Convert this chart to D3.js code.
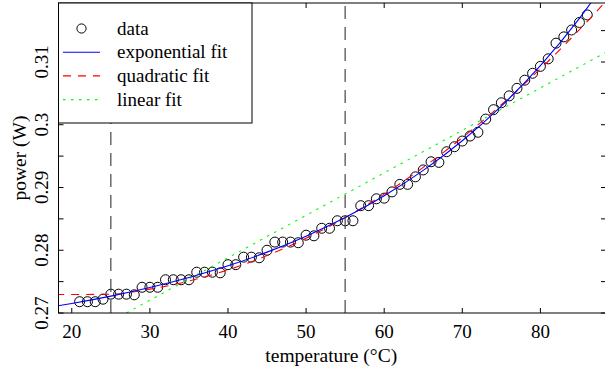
<!DOCTYPE html>
<html>
<head>
<meta charset="utf-8">
<script src="https://cdn.jsdelivr.net/npm/d3@7"></script>
<style>
  html, body { margin: 0; padding: 0; background: #fff; }
  svg text { font-family: "Liberation Serif", "Times New Roman", serif; fill: #000; }
</style>
</head>
<body>
<div id="chart"></div>
<script>
// measured data
const temperature = [21, 22, 23, 24, 25, 26, 27, 28, 29, 30, 31, 32, 33, 34, 35, 36, 37, 38, 39, 40,
                     41, 42, 43, 44, 45, 46, 47, 48, 49, 50, 51, 52, 53, 54, 55, 56, 57, 58, 59, 60,
                     61, 62, 63, 64, 65, 66, 67, 68, 69, 70, 71, 72, 73, 74, 75, 76, 77, 78, 79, 80,
                     81, 82, 83, 84, 85, 86];
const power = [0.2718, 0.2718, 0.2718, 0.2722, 0.2730, 0.2730, 0.2730, 0.2729, 0.2741, 0.2741,
               0.2741, 0.2753, 0.2753, 0.2753, 0.2753, 0.2765, 0.2765, 0.2765, 0.2764, 0.2777,
               0.2777, 0.2789, 0.2789, 0.2788, 0.2800, 0.2813, 0.2813, 0.2813, 0.2812, 0.2824,
               0.2823, 0.2835, 0.2835, 0.2847, 0.2847, 0.2847, 0.2871, 0.2871, 0.2882, 0.2883,
               0.2893, 0.2905, 0.2905, 0.2917, 0.2928, 0.2941, 0.2940, 0.2957, 0.2965, 0.2974,
               0.2982, 0.2988, 0.3009, 0.3024, 0.3035, 0.3046, 0.3058, 0.3071, 0.3082, 0.3093,
               0.3105, 0.3130, 0.3140, 0.3151, 0.3163, 0.3175];

// fitted curves
const fitTemperature = [18, 20, 25, 30, 35, 40, 45, 50, 55, 60, 65, 70, 75, 80, 85, 90];
const expFit  = [0.27110, 0.27152, 0.27269, 0.27406, 0.27566, 0.27752, 0.27970, 0.28224,
                 0.28521, 0.28867, 0.29272, 0.29745, 0.30297, 0.30942, 0.31695, 0.32575];
const quadFit = [0.27295, 0.27295, 0.27300, 0.27380, 0.27509, 0.27687, 0.27915, 0.28192,
                 0.28518, 0.28894, 0.29320, 0.29794, 0.30319, 0.30892, 0.31515, 0.32187];
const linTemperature = [18, 90];
const linFit = [0.26392, 0.31263];

const markerTemps = [25, 55];
const xTicks = [20, 30, 40, 50, 60, 70, 80];
const yTicks = [0.27, 0.275, 0.28, 0.285, 0.29, 0.295, 0.3, 0.305, 0.31, 0.315];
const yLabels = ["0.27", "0.28", "0.29", "0.3", "0.31"];
const legendNames = ["data", "exponential fit", "quadratic fit", "linear fit"];

const WIDTH = 605, HEIGHT = 376,
      LEFT = 58.5, RIGHT = 606, TOP = 3, BOTTOM = 313,
      TICK = 5;

const svg = d3.select("#chart")
              .append("svg")
              .attr("width", WIDTH)
              .attr("height", HEIGHT);

const x = d3.scaleLinear().domain([18.3, 88.4]).range([LEFT, RIGHT]);
const y = d3.scaleLinear().domain([0.27, 0.3194]).range([BOTTOM, TOP]);

svg.append("clipPath").attr("id", "plot-clip")
   .append("rect")
   .attr("x", LEFT).attr("y", TOP)
   .attr("width", RIGHT - LEFT).attr("height", BOTTOM - TOP);

const plot = svg.append("g").attr("clip-path", "url(#plot-clip)");

// data points first, fits over them
plot.selectAll("circle.data")
    .data(temperature.map((t, i) => [t, power[i]]))
    .enter()
    .append("circle")
        .attr("class", "data")
        .attr("cx", d => x(d[0]))
        .attr("cy", d => y(d[1]))
        .attr("r", 5)
        .attr("fill", "none")
        .attr("stroke", "#000")
        .attr("stroke-width", 1);

const line = d3.line()
               .x(d => x(d[0]))
               .y(d => y(d[1]))
               .curve(d3.curveMonotoneX);

const fits = [
    { vals: fitTemperature.map((t, i) => [t, expFit[i]]),  color: "#0000ff", dash: null },
    { vals: fitTemperature.map((t, i) => [t, quadFit[i]]), color: "#ff0000", dash: "8,7" },
    { vals: linTemperature.map((t, i) => [t, linFit[i]]),  color: "#00ff00", dash: "2.5,5.5" }
];

// draw blue last so it sits on top like the reference
[fits[2], fits[1], fits[0]].forEach(f => {
    plot.append("path")
        .attr("d", line(f.vals))
        .attr("fill", "none")
        .attr("stroke", f.color)
        .attr("stroke-width", 1.1)
        .attr("stroke-dasharray", f.dash);
});

// vertical reference lines
plot.selectAll("line.marker")
    .data(markerTemps)
    .enter()
    .append("line")
        .attr("x1", d => x(d)).attr("x2", d => x(d))
        .attr("y1", BOTTOM).attr("y2", TOP)
        .attr("stroke", "#444")
        .attr("stroke-width", 1.2)
        .attr("stroke-dasharray", "13,8");

// axes box with inward ticks
const axes = svg.append("g");
axes.append("rect")
    .attr("x", LEFT).attr("y", TOP)
    .attr("width", RIGHT - LEFT).attr("height", BOTTOM - TOP)
    .attr("fill", "none").attr("stroke", "#000").attr("stroke-width", 1);

axes.selectAll("line.xt")
    .data(xTicks.flatMap(t => [[t, BOTTOM, -TICK], [t, TOP, TICK]]))
    .enter().append("line")
        .attr("x1", d => x(d[0])).attr("x2", d => x(d[0]))
        .attr("y1", d => d[1]).attr("y2", d => d[1] + d[2])
        .attr("stroke", "#000");

axes.selectAll("line.yt")
    .data(yTicks.flatMap(v => [[v, LEFT, TICK], [v, RIGHT, -TICK]]))
    .enter().append("line")
        .attr("y1", d => y(d[0])).attr("y2", d => y(d[0]))
        .attr("x1", d => d[1]).attr("x2", d => d[1] + d[2])
        .attr("stroke", "#000");

axes.selectAll("text.xl")
    .data(xTicks)
    .enter().append("text")
        .attr("x", d => x(d))
        .attr("y", 338)
        .attr("text-anchor", "middle")
        .style("font-size", "19px")
        .text(d => d);

axes.selectAll("text.yl")
    .data(yLabels)
    .enter().append("text")
        .attr("transform", d => `translate(48,${y(+d)}) rotate(-90)`)
        .attr("text-anchor", "middle")
        .style("font-size", "19px")
        .text(d => d);

svg.append("text")
   .attr("x", (LEFT + 604) / 2)
   .attr("y", 362)
   .attr("text-anchor", "middle")
   .style("font-size", "19.5px")
   .text("temperature (°C)");

svg.append("text")
   .attr("transform", `translate(26,${(TOP + BOTTOM) / 2}) rotate(-90)`)
   .attr("text-anchor", "middle")
   .style("font-size", "19.5px")
   .text("power (W)");

// legend
const legend = svg.append("g");
legend.append("rect")
      .attr("x", LEFT).attr("y", TOP)
      .attr("width", 252 - LEFT).attr("height", 123 - TOP)
      .attr("fill", "#fff").attr("stroke", "#000").attr("stroke-width", 1);

const rowY = i => 28.5 + i * 23.7;
legend.append("circle")
      .attr("cx", 81.5).attr("cy", rowY(0)).attr("r", 4.6)
      .attr("fill", "none").attr("stroke", "#000");
fits.forEach((f, i) => {
    legend.append("line")
          .attr("x1", 63).attr("x2", 100)
          .attr("y1", rowY(i + 1)).attr("y2", rowY(i + 1))
          .attr("stroke", f.color).attr("stroke-width", 1.1)
          .attr("stroke-dasharray", f.dash);
});
legend.selectAll("text")
      .data(legendNames)
      .enter().append("text")
          .attr("x", 117)
          .attr("y", (d, i) => rowY(i) + 6)
          .style("font-size", "19px")
          .text(d => d);
</script>
</body>
</html>
